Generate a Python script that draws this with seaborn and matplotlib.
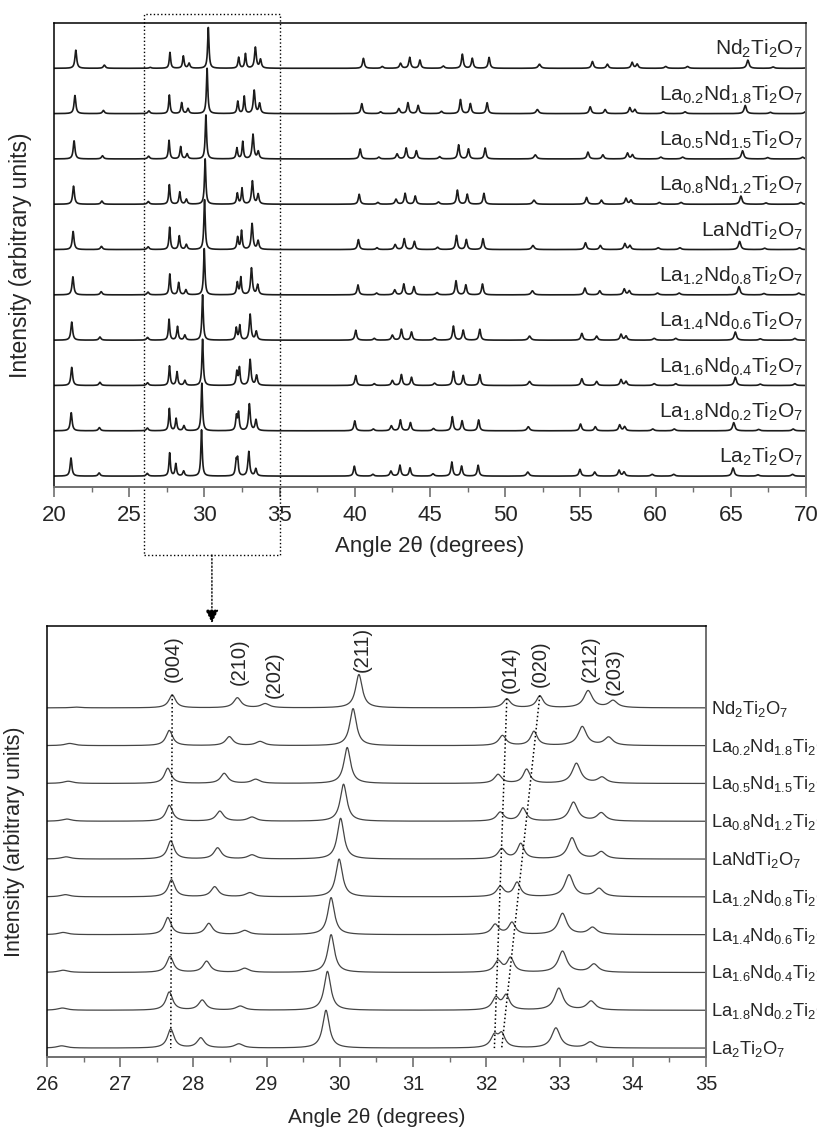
import numpy as np
import pandas as pd
import seaborn as sns
import matplotlib.pyplot as plt
import matplotlib.transforms as mtransforms
from matplotlib.patches import Rectangle
from matplotlib.ticker import MultipleLocator

# samples, listed from the top trace down
samples = ['Nd2Ti2O7', 'La0.2Nd1.8Ti2O7', 'La0.5Nd1.5Ti2O7', 'La0.8Nd1.2Ti2O7', 'LaNdTi2O7',
           'La1.2Nd0.8Ti2O7', 'La1.4Nd0.6Ti2O7', 'La1.6Nd0.4Ti2O7', 'La1.8Nd0.2Ti2O7', 'La2Ti2O7']
sample_labels = [r'Nd$_2$Ti$_2$O$_7$', r'La$_{0.2}$Nd$_{1.8}$Ti$_2$O$_7$',
                 r'La$_{0.5}$Nd$_{1.5}$Ti$_2$O$_7$', r'La$_{0.8}$Nd$_{1.2}$Ti$_2$O$_7$',
                 r'LaNdTi$_2$O$_7$', r'La$_{1.2}$Nd$_{0.8}$Ti$_2$O$_7$',
                 r'La$_{1.4}$Nd$_{0.6}$Ti$_2$O$_7$', r'La$_{1.6}$Nd$_{0.4}$Ti$_2$O$_7$',
                 r'La$_{1.8}$Nd$_{0.2}$Ti$_2$O$_7$', r'La$_2$Ti$_2$O$_7$']

# reflections inside the 26-35 deg window: position (deg) per sample
hkl = ['(004)', '(210)', '(202)', '(211)', '(014)', '(020)', '(212)', '(203)']
pos_004 = [27.71, 27.67, 27.65, 27.67, 27.69, 27.70, 27.65, 27.68, 27.67, 27.69]
pos_210 = [28.60, 28.49, 28.42, 28.36, 28.33, 28.29, 28.21, 28.18, 28.12, 28.10]
pos_202 = [28.98, 28.91, 28.85, 28.80, 28.80, 28.77, 28.70, 28.70, 28.64, 28.62]
pos_211 = [30.26, 30.18, 30.10, 30.05, 30.01, 29.99, 29.88, 29.88, 29.83, 29.81]
pos_014 = [32.28, 32.22, 32.16, 32.19, 32.21, 32.19, 32.12, 32.16, 32.13, 32.11]
pos_020 = [32.73, 32.65, 32.55, 32.50, 32.47, 32.42, 32.35, 32.33, 32.27, 32.21]
pos_212 = [33.39, 33.31, 33.23, 33.19, 33.17, 33.13, 33.04, 33.04, 32.99, 32.95]
pos_203 = [33.73, 33.67, 33.58, 33.57, 33.57, 33.54, 33.45, 33.47, 33.43, 33.42]
pos_weak = [26.40, 26.31, 26.29, 26.27, 26.26, 26.25, 26.22, 26.22, 26.21, 26.20]

# peak heights (arbitrary units) per sample
int_004 = [35, 41, 41, 43, 49, 46, 46, 43, 49, 51]
int_210 = [27, 24, 27, 27, 30, 27, 30, 30, 27, 27]
int_202 = [11, 11, 11, 11, 11, 11, 11, 11, 11, 11]
int_211 = [90, 100, 97, 100, 110, 102, 100, 102, 105, 102]
int_014 = [24, 27, 24, 24, 27, 27, 27, 30, 32, 32]
int_020 = [32, 38, 38, 35, 41, 38, 32, 38, 38, 35]
int_212 = [46, 51, 54, 51, 57, 59, 57, 57, 59, 54]
int_203 = [19, 22, 16, 22, 19, 22, 19, 22, 24, 16]
int_weak = [2, 6, 6, 6, 6, 6, 6, 6, 6, 6]

# half width at half maximum (deg), same order as above (+ weak peak)
hwhm_window = [0.055, 0.06, 0.07, 0.055, 0.06, 0.055, 0.07, 0.07, 0.08]

# reflections outside the window, positions for La2Ti2O7
wide_pos = [21.13, 23.0, 39.97, 41.2, 42.4, 43.0, 43.67, 45.2, 46.45, 47.1, 48.2,
            51.5, 54.97, 55.95, 57.57, 57.9, 59.77, 61.2, 65.15, 66.8, 69.1]
wide_int = [40, 7, 22, 4, 11, 24, 18, 5, 31, 22, 24, 9, 15, 9, 13, 9, 4, 4, 18, 3, 4]
wide_hwhm = [0.07, 0.08, 0.07, 0.08, 0.08, 0.07, 0.07, 0.09, 0.07, 0.07, 0.07,
             0.10, 0.08, 0.08, 0.08, 0.08, 0.10, 0.10, 0.09, 0.10, 0.10]
# relative peak shift against La2Ti2O7
shift = [0.0151, 0.0124, 0.0097, 0.0080, 0.0067, 0.0060, 0.0023, 0.0023, 0.0007, 0.0]

zoom_range = [26, 35]

pos_window = [pos_004, pos_210, pos_202, pos_211, pos_014, pos_020, pos_212, pos_203, pos_weak]
int_window = [int_004, int_210, int_202, int_211, int_014, int_020, int_212, int_203, int_weak]


def lorentz_sum(x, centers, heights, widths):
    y = np.zeros_like(x)
    for c, h, w in zip(centers, heights, widths):
        y += h / (1 + ((x - c) / w) ** 2)
    return y


def sample_peaks(i):
    centers = [p[i] for p in pos_window] + [p * (1 + shift[i]) for p in wide_pos]
    heights = [h[i] for h in int_window] + wide_int
    widths = hwhm_window + wide_hwhm
    return centers, heights, widths


def build_frame(x, step):
    rows = []
    n = len(samples)
    for i, s in enumerate(samples):
        c, h, w = sample_peaks(i)
        y = lorentz_sum(x, c, h, w) + (n - 1 - i) * step
        rows.append(pd.DataFrame({'angle': x, 'intensity': y, 'sample': s}))
    return pd.concat(rows, ignore_index=True)


sns.set_theme(style='white')
plt.rcParams['font.family'] = ['Liberation Sans', 'DejaVu Sans']
plt.rcParams['mathtext.default'] = 'regular'

W, H = 817, 1129
fig = plt.figure(figsize=(W / 100, H / 100), dpi=100)
ax1 = fig.add_axes([54 / W, 1 - 487 / H, 752 / W, 464 / H])
ax2 = fig.add_axes([47 / W, 1 - 1057 / H, 659 / W, 431 / H])

step_top = 100
step_bot = 102
x_top = np.linspace(20, 70, 5001)
x_bot = np.linspace(zoom_range[0], zoom_range[1], 1801)
df_top = build_frame(x_top, step_top)
df_bot = build_frame(x_bot, step_bot)

sns.lineplot(data=df_top, x='angle', y='intensity', hue='sample', hue_order=samples,
             palette=['#1c1c1c'] * len(samples), estimator=None, sort=False,
             legend=False, lw=1.2, ax=ax1)
sns.lineplot(data=df_bot, x='angle', y='intensity', hue='sample', hue_order=samples,
             palette=['#454545'] * len(samples), estimator=None, sort=False,
             legend=False, lw=0.9, ax=ax2)

n = len(samples)
ax1.set_xlim(20, 70)
ax1.set_ylim(-24, 1000)
ax2.set_xlim(zoom_range)
ax2.set_ylim(-24, 1139)

for ax, lab_size, tick_size, major, minor in [(ax1, 16, 16, 5, 2.5), (ax2, 15, 14.5, 1, 0.5)]:
    ax.set_yticks([])
    ax.xaxis.set_major_locator(MultipleLocator(major))
    ax.xaxis.set_minor_locator(MultipleLocator(minor))
    ax.tick_params(axis='x', which='major', direction='out', length=7, width=1.2,
                   color='#707070', labelsize=tick_size, pad=6, bottom=True)
    ax.tick_params(axis='x', which='minor', direction='out', length=3.5, width=1.0,
                   color='#707070', bottom=True)
    for side in ['left', 'top']:
        ax.spines[side].set_color('black')
        ax.spines[side].set_linewidth(1.1)
    for side in ['right', 'bottom']:
        ax.spines[side].set_color('#707070')
        ax.spines[side].set_linewidth(1.4)
    ax.set_xlabel('Angle 2\u03b8 (degrees)', fontsize=lab_size)
    ax.set_ylabel('Intensity (arbitrary units)', fontsize=lab_size + 0.5)

ax1.xaxis.set_label_coords(0.5, -0.105)
ax1.yaxis.set_label_coords(-0.029, 0.5)
ax2.xaxis.set_label_coords(0.5, -0.118)
ax2.yaxis.set_label_coords(-0.033, 0.5)

# sample labels
for i, lab in enumerate(sample_labels):
    base_top = (n - 1 - i) * step_top
    ax1.text(0.996, base_top + 29, lab, transform=ax1.get_yaxis_transform(),
             ha='right', va='baseline', fontsize=15)
    base_bot = (n - 1 - i) * step_bot
    ax2.text(1.008, base_bot - 16, lab, transform=ax2.get_yaxis_transform(),
             ha='left', va='baseline', fontsize=13.2, clip_on=False)

# hkl labels above the top trace of the zoom
label_dx = [0.02, 0.02, 0.12, 0.04, 0.05, 0.0, 0.03, 0.02]
label_dy = [70, 62, 27, 97, 41, 57, 70, 35]
top_base = (n - 1) * step_bot
for k, name in enumerate(hkl):
    ax2.text(pos_window[k][0] + label_dx[k], top_base + label_dy[k], name, rotation=90,
             ha='center', va='bottom', fontsize=14.5)

# dotted guides following (004), (014), (020)
c0, h0, w0 = sample_peaks(0)
for k in [0, 4, 5]:
    x_start = pos_window[k][0]
    y_start = top_base + lorentz_sum(np.array([x_start]), c0, h0, w0)[0]
    ax2.plot([x_start, pos_window[k][-1]], [y_start, 0], ls=':', color='black', lw=1.1)

# zoom box on the overview and arrow to the lower panel
blend = mtransforms.blended_transform_factory(ax1.transData, fig.transFigure)
box_bottom = 1 - 555 / H
box_top = 1 - 14 / H
ax1.add_patch(Rectangle((zoom_range[0], box_bottom), zoom_range[1] - zoom_range[0],
                        box_top - box_bottom, transform=blend, fill=False,
                        ls=':', lw=1.0, color='black', clip_on=False))
mid = (zoom_range[0] + zoom_range[1]) / 2
ax1.annotate('', xy=(mid, 1 - 623 / H), xytext=(mid, box_bottom),
             xycoords=blend, textcoords=blend,
             arrowprops=dict(arrowstyle='-|>', ls=':', lw=1.0, color='black',
                             mutation_scale=20, shrinkA=0, shrinkB=0))

plt.savefig('out.png', dpi=100)
